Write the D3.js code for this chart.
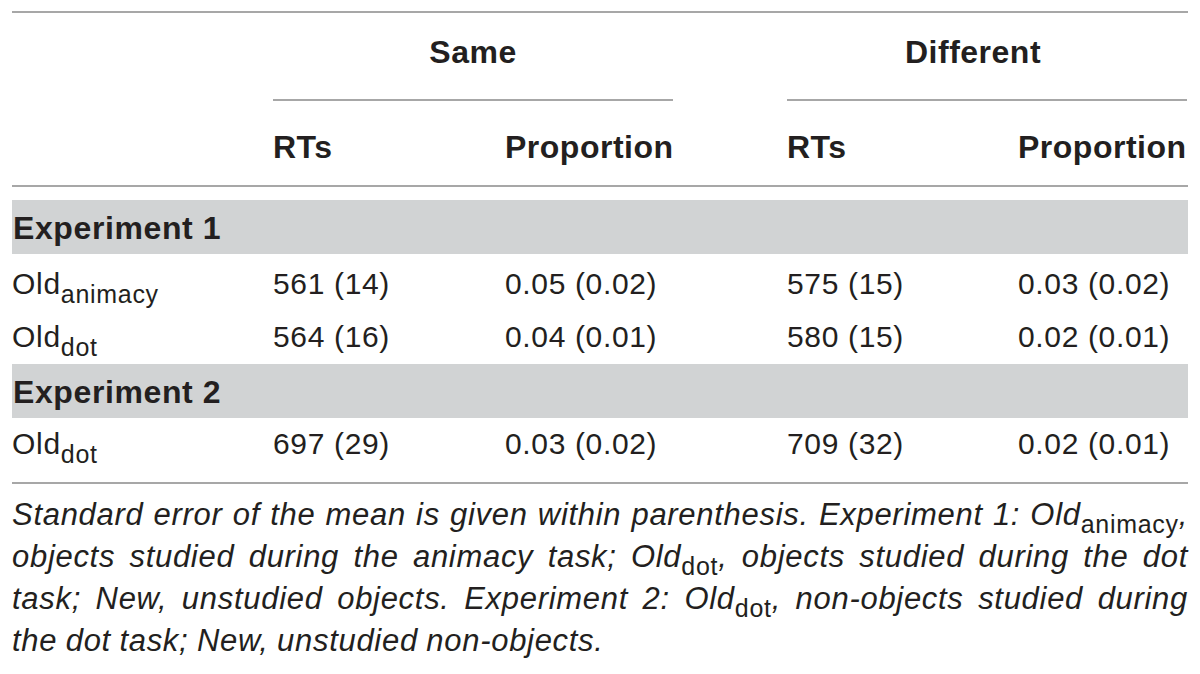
<!DOCTYPE html>
<html>
<head>
<meta charset="utf-8">
<script src="https://cdn.jsdelivr.net/npm/d3@7"></script>
<style>
  body { margin: 0; background: #fff; }
  text { font-family: "Liberation Sans", Arial, sans-serif; fill: #231f20; }
</style>
</head>
<body>
<svg id="tbl" width="1200" height="674"></svg>
<script>
// table content
var groups = ["Same", "Different"];
var measures = ["RTs", "Proportion"];
var experiments = ["Experiment 1", "Experiment 2"];
var rowLabels = [["Old", "animacy"], ["Old", "dot"], ["Old", "dot"]];
var rtMean = [[561, 575], [564, 580], [697, 709]];
var rtSE = [[14, 15], [16, 15], [29, 32]];
var propMean = [[0.05, 0.03], [0.04, 0.02], [0.03, 0.02]];
var propSE = [[0.02, 0.02], [0.01, 0.01], [0.02, 0.01]];

// footnote lines, [text, isSubscript]
var note = [
  [["Standard error of the mean is given within parenthesis. Experiment 1: ", 0], ["Old", 0], ["animacy", 1], [",", 0]],
  [["objects studied during the animacy task; ", 0], ["Old", 0], ["dot", 1], [", objects studied during the dot", 0]],
  [["task; New, unstudied objects. Experiment 2: ", 0], ["Old", 0], ["dot", 1], [", non-objects studied during", 0]],
  [["the dot task; New, unstudied non-objects.", 0]]
];

var svg = d3.select("#tbl");
var L = 12, R = 1188;
var lineCol = "#8a8a8a";

var colX = d3.scaleOrdinal().domain([0, 1, 2, 3]).range([273, 505, 787, 1018]);
var rowY = d3.scaleOrdinal().domain([0, 1, 2]).range([294, 347, 454]);
var bandY = d3.scaleOrdinal().domain([0, 1]).range([200, 364]);

// gray bands
svg.selectAll("rect.band").data(experiments).enter().append("rect")
  .attr("x", L).attr("width", R - L)
  .attr("y", function(d, i) { return bandY(i); })
  .attr("height", 54)
  .attr("fill", "#d1d3d4");
svg.selectAll("text.exp").data(experiments).enter().append("text")
  .attr("x", L + 1)
  .attr("y", function(d, i) { return bandY(i) + 39; })
  .attr("font-size", 32).attr("font-weight", "bold")
  .style("letter-spacing", "0.6px")
  .text(function(d) { return d; });

// rules
var rules = [[L, R, 12], [273, 673, 100], [787, 1187, 100], [L, R, 186], [L, R, 483]];
svg.selectAll("line.rule").data(rules).enter().append("line")
  .attr("x1", function(d) { return d[0]; })
  .attr("x2", function(d) { return d[1]; })
  .attr("y1", function(d) { return d[2]; })
  .attr("y2", function(d) { return d[2]; })
  .attr("stroke", lineCol).attr("stroke-width", 1.6);

// group headers
svg.selectAll("text.grp").data(groups).enter().append("text")
  .attr("x", function(d, i) { return i == 0 ? 473 : 973; })
  .attr("y", 63)
  .attr("text-anchor", "middle")
  .attr("font-size", 32).attr("font-weight", "bold")
  .style("letter-spacing", "0.5px")
  .text(function(d) { return d; });

// measure headers
svg.selectAll("text.meas").data([0, 1, 2, 3]).enter().append("text")
  .attr("x", function(d) { return colX(d); })
  .attr("y", 158)
  .attr("font-size", 32).attr("font-weight", "bold")
  .style("letter-spacing", "0.5px")
  .text(function(d) { return measures[d % 2]; });

// row labels
var lab = svg.selectAll("text.lab").data(rowLabels).enter().append("text")
  .attr("x", L)
  .attr("y", function(d, i) { return rowY(i); })
  .attr("font-size", 30)
  .style("letter-spacing", "0.7px");
lab.append("tspan").text(function(d) { return d[0]; });
lab.append("tspan").attr("font-size", 25).attr("dy", 9).text(function(d) { return d[1]; });

// cells
var cells = [];
rowLabels.forEach(function(r, i) {
  for (var g = 0; g < 2; g++) {
    cells.push({ row: i, col: g * 2, txt: rtMean[i][g] + " (" + rtSE[i][g] + ")" });
    cells.push({ row: i, col: g * 2 + 1, txt: propMean[i][g].toFixed(2) + " (" + propSE[i][g].toFixed(2) + ")" });
  }
});
svg.selectAll("text.cell").data(cells).enter().append("text")
  .attr("x", function(d) { return colX(d.col); })
  .attr("y", function(d) { return rowY(d.row); })
  .attr("font-size", 30)
  .style("letter-spacing", "0.65px")
  .text(function(d) { return d.txt; });

// footnote, justified word by word
var noteG = svg.append("g");
note.forEach(function(line, li) {
  var y = 525 + li * 42;
  var words = [[]];
  line.forEach(function(p) {
    p[0].split(" ").forEach(function(w, k) {
      if (k > 0) words.push([]);
      if (w.length) words[words.length - 1].push([w, p[1]]);
    });
  });
  words = words.filter(function(w) { return w.length; });
  var nodes = words.map(function(w) {
    var t = noteG.append("text").attr("y", y).attr("font-size", 31)
      .style("letter-spacing", "0.7px");
    var prevSub = 0;
    w.forEach(function(p) {
      var s = t.append("tspan").text(p[0]);
      if (p[1]) s.attr("font-size", 25).attr("font-style", "normal").attr("dy", 8);
      else s.attr("font-style", "italic").attr("dy", prevSub ? -8 : 0);
      prevSub = p[1];
    });
    return t;
  });
  var widths = nodes.map(function(t) { return t.node().getComputedTextLength(); });
  var total = d3.sum(widths);
  var last = li == note.length - 1;
  var gap = last ? 8.5 : (R - L - total) / (nodes.length - 1);
  var x = L;
  nodes.forEach(function(t, k) {
    t.attr("x", x);
    x += widths[k] + gap;
  });
});
</script>
</body>
</html>
